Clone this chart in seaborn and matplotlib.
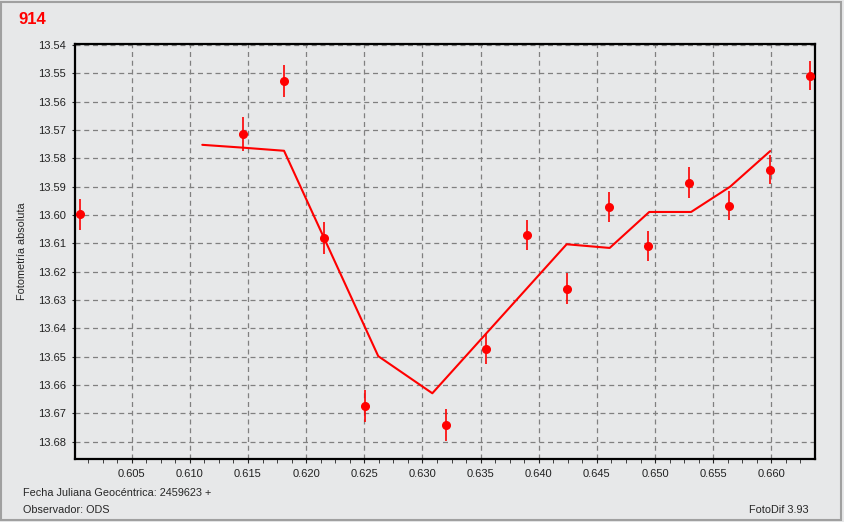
import matplotlib
matplotlib.use("Agg")
import matplotlib.pyplot as plt
import matplotlib.patches as patches
import numpy as np
import pandas as pd
import seaborn as sns

# Observed points (fractional JD, magnitude, error)
jd = [0.60055, 0.61457, 0.6181, 0.6215, 0.6251, 0.6320, 0.6355, 0.6390,
      0.6424, 0.6460, 0.6494, 0.6529, 0.6564, 0.6599, 0.66333]
mag = [13.5997, 13.5714, 13.5526, 13.6081, 13.6674, 13.6741, 13.6472, 13.6070,
       13.6260, 13.5971, 13.6108, 13.5886, 13.5967, 13.5840, 13.5508]
err = [0.0055, 0.0059, 0.0056, 0.0055, 0.0055, 0.0056, 0.0054, 0.0054,
       0.0054, 0.0054, 0.0053, 0.0054, 0.0052, 0.0052, 0.0052]

# Fitted curve
fit_jd = [0.61107, 0.61457, 0.6181, 0.6262, 0.63085, 0.6424, 0.6461, 0.6495,
          0.6531, 0.65645, 0.6599]
fit_mag = [13.5752, 13.5762, 13.5773, 13.6498, 13.6629, 13.6103, 13.6116, 13.5989,
           13.5989, 13.5900, 13.5774]

x_ticks = [0.605, 0.610, 0.615, 0.620, 0.625, 0.630, 0.635, 0.640, 0.645, 0.650, 0.655, 0.660]
y_ticks = [13.54, 13.55, 13.56, 13.57, 13.58, 13.59, 13.60, 13.61, 13.62, 13.63, 13.64,
           13.65, 13.66, 13.67, 13.68]

bg = '#e7e8e9'
sns.set_style("ticks", {"axes.facecolor": bg, "figure.facecolor": bg})
plt.rcParams['font.family'] = ['Liberation Sans', 'DejaVu Sans']

fig = plt.figure(figsize=(8.44, 5.22), dpi=100)
ax = fig.add_axes([0.0885, 0.1207, 0.8775, 0.7956])

fit_df = pd.DataFrame({'jd': fit_jd, 'mag': fit_mag})
sns.lineplot(data=fit_df, x='jd', y='mag', sort=False, estimator=None,
             color='#ff0000', linewidth=1.5, ax=ax, zorder=3)
ax.errorbar(jd, mag, yerr=err, fmt='o', color='#ff0000', ecolor='#ff0000',
            markersize=5.5, elinewidth=1.2, capsize=0, zorder=4)

ax.set_xlim(0.6001, 0.66378)
ax.set_ylim(13.6861, 13.5395)
ax.set_xticks(x_ticks)
ax.set_xticklabels([f"{v:.3f}" for v in x_ticks])
ax.set_xticks(np.arange(0.60125, 0.6637, 0.00125), minor=True)
ax.set_yticks(y_ticks)
ax.set_yticklabels([f"{v:.2f}" for v in y_ticks])
ax.tick_params(axis='both', labelsize=8, colors='#222222', width=0.8)
ax.tick_params(axis='x', which='both', length=3, pad=4)
ax.tick_params(axis='y', length=2.5, pad=4)

ax.grid(True, which='major', linestyle=(0, (4, 3)), color='#808080', linewidth=0.9)
for s in ax.spines.values():
    s.set_visible(True)
    s.set_color('black')
    s.set_linewidth(1.6)

ax.set_xlabel('')
ax.set_ylabel('Fotometría absoluta', fontsize=7.8)
ax.yaxis.set_label_coords(-0.064, 0.5)

fig.text(18 / 844, 1 - 19.5 / 522, '914', color='#ff0000', fontsize=12,
         fontweight='bold', va='center', ha='left')
fig.text(23 / 844, 1 - 493 / 522, 'Fecha Juliana Geocéntrica: 2459623 +',
         fontsize=7.8, va='center', ha='left')
fig.text(23 / 844, 1 - 510 / 522, 'Observador: ODS', fontsize=7.8,
         va='center', ha='left')
fig.text(809 / 844, 1 - 510 / 522, 'FotoDif 3.93', fontsize=7.8,
         va='center', ha='right')

fig.patches.append(patches.Rectangle((0.001, 0.003), 0.996, 0.994, transform=fig.transFigure,
                                     fill=False, edgecolor='#a0a0a0', linewidth=1.5))

fig.savefig('out.png', dpi=100, facecolor=bg)
